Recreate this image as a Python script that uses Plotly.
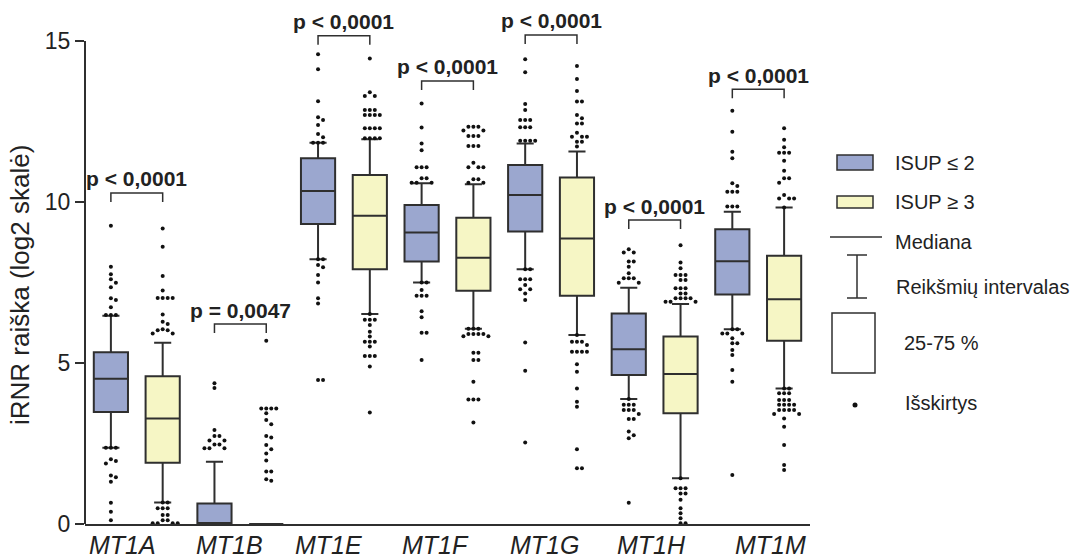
import plotly.graph_objects as go

# ---- data -------------------------------------------------------------
GENES = ["MT1A", "MT1B", "MT1E", "MT1F", "MT1G", "MT1H", "MT1M"]

# ISUP <= 2 : box statistics (log2 scale)
Q1_LOW = [3.48, 0.00, 9.32, 8.15, 9.08, 4.63, 7.13]
MED_LOW = [4.51, 0.00, 10.34, 9.05, 10.22, 5.43, 8.16]
Q3_LOW = [5.33, 0.64, 11.36, 9.91, 11.15, 6.54, 9.15]
WLO_LOW = [2.37, 0.00, 8.22, 7.50, 7.91, 3.88, 6.05]
WHI_LOW = [6.47, 1.93, 11.84, 10.58, 11.82, 7.34, 9.70]

# ISUP >= 3 : box statistics (log2 scale)
Q1_HIGH = [1.90, 0.00, 7.91, 7.24, 7.09, 3.44, 5.69]
MED_HIGH = [3.28, 0.00, 9.57, 8.27, 8.87, 4.66, 6.98]
Q3_HIGH = [4.59, 0.00, 10.84, 9.51, 10.76, 5.82, 8.33]
WLO_HIGH = [0.67, 0.00, 6.52, 6.06, 5.87, 1.42, 4.21]
WHI_HIGH = [5.63, 0.00, 11.95, 10.55, 11.57, 6.83, 9.83]

# outlying values per gene
OUT_LOW = [
    [9.26, 7.99, 7.76, 7.60, 7.49, 7.35, 7.01, 6.96, 6.73, 6.49, 6.49, 6.49,
     2.37, 2.37, 2.37, 2.01, 1.96, 1.88, 1.51, 1.45, 1.31, 0.66, 0.38, 0.12],
    [4.37, 4.22, 2.92, 2.73, 2.73, 2.59, 2.59, 2.47, 2.47, 2.35, 2.35, 2.35],
    [14.59, 14.12, 13.13, 12.63, 12.55, 12.39, 12.11, 12.01, 11.84, 11.84, 11.84,
     8.22, 8.22, 8.04, 7.97, 7.73, 7.50, 7.01, 6.85, 4.47, 4.47],
    [13.06, 12.31, 11.82, 11.61, 11.08, 11.08, 11.08, 10.74, 10.74, 10.60, 10.60, 10.60,
     7.50, 7.50, 7.27, 7.09, 7.09, 7.09, 6.61, 6.42, 5.94, 5.94, 5.09],
    [14.43, 14.03, 13.04, 12.86, 12.55, 12.55, 12.55, 12.32, 12.32, 12.32,
     11.90, 11.90, 11.90, 11.90, 7.91, 7.91, 7.60, 7.60, 7.60, 7.42, 7.29, 7.29,
     7.16, 6.96, 5.64, 4.76, 2.53],
    [8.53, 8.43, 8.43, 8.15, 8.15, 7.99, 7.79, 7.63, 7.63, 7.63, 7.49, 7.49,
     3.88, 3.70, 3.70, 3.70, 3.54, 3.54, 3.54, 3.42, 3.26, 3.26, 2.87, 2.76, 2.66, 0.66],
    [12.83, 12.18, 11.56, 11.36, 10.58, 10.50, 10.32, 10.32, 10.32, 9.86, 9.86, 9.86,
     6.05, 6.05, 5.92, 5.92, 5.92, 5.77, 5.61, 5.61, 5.40, 5.25, 4.78, 4.42, 1.52],
]
OUT_HIGH = [
    [9.18, 8.61, 7.70, 7.25, 7.02, 7.02, 7.02, 7.02, 6.51, 6.28, 6.21, 6.05, 6.02,
     6.02, 5.92, 5.92, 0.67, 0.67, 0.49, 0.49, 0.49, 0.28, 0.28, 0.12, 0.12,
     0.02, 0.02, 0.02, 0.02],
    [5.69, 3.59, 3.59, 3.59, 3.59, 3.44, 3.23, 3.10, 2.73, 2.69, 2.45, 2.32, 2.19,
     1.97, 1.63, 1.63, 1.39, 1.34],
    [14.46, 13.41, 13.29, 13.29, 12.86, 12.86, 12.86, 12.70, 12.70, 12.70, 12.70,
     12.29, 12.29, 12.29, 12.29, 11.98, 11.98, 11.98, 11.98, 6.52, 6.34, 6.34, 6.34,
     6.18, 5.97, 5.82, 5.66, 5.66, 5.66, 5.51, 5.22, 5.22, 5.22, 4.89, 3.46],
    [12.34, 12.34, 12.34, 12.22, 12.22, 12.05, 12.05, 12.05, 11.74, 11.74, 11.74,
     11.22, 11.08, 11.08, 11.08, 10.71, 10.71, 10.60, 10.60, 6.06, 6.06, 6.06, 5.90,
     5.90, 5.90, 5.90, 5.83, 5.83, 5.32, 5.32, 5.09, 5.09, 4.42, 3.87, 3.87, 3.87, 3.15],
    [14.22, 13.82, 13.45, 13.12, 13.12, 12.70, 12.60, 12.44, 12.44, 12.15, 12.03,
     12.03, 12.03, 11.87, 11.87, 11.72, 5.87, 5.66, 5.66, 5.66, 5.56, 5.35, 5.35,
     5.35, 5.35, 4.96, 4.73, 4.21, 3.80, 3.64, 2.32, 1.73, 1.73],
    [8.66, 8.12, 7.94, 7.73, 7.73, 7.73, 7.58, 7.58, 7.32, 7.32, 7.32, 7.16, 7.16,
     7.01, 7.01, 7.01, 7.01, 6.90, 6.90, 6.90, 1.42, 1.11, 1.11, 1.11, 0.95, 0.95,
     0.75, 0.49, 0.33, 0.18, 0.02, 0.02],
    [12.29, 11.93, 11.70, 11.53, 11.53, 11.53, 11.28, 10.97, 10.74, 10.74, 10.60,
     10.22, 10.11, 10.11, 10.11, 9.83, 4.21, 4.21, 4.06, 4.06, 4.06, 3.85, 3.85,
     3.85, 3.70, 3.70, 3.70, 3.70, 3.54, 3.54, 3.54, 3.54, 3.42, 3.42, 3.28, 3.02,
     2.45, 1.83, 1.68],
]

P_LABELS = ["p < 0,0001", "p = 0,0047", "p < 0,0001", "p < 0,0001",
            "p < 0,0001", "p < 0,0001", "p < 0,0001"]
BRACKET_Y = [10.28, 6.21, 15.16, 13.76, 15.19, 9.44, 13.50]

LEGEND_LOW = "ISUP ≤ 2"
LEGEND_HIGH = "ISUP ≥ 3"
Y_TITLE = "iRNR raiška (log2 skalė)"

# ---- styling / geometry -----------------------------------------------
FONT = "Liberation Sans, Arial, Helvetica, sans-serif"
BLUE = "#9ba7cf"
YELLOW = "#f6f6c5"
EDGE = "#2f2f2f"
DOT = "#111111"

W, H = 1084, 560
ML, MR, MT, MB = 85, 274, 0, 36
PX_PER_UNIT = 32.2                       # vertical scale
Y_TOP = (H - MT - MB) / PX_PER_UNIT      # y range top so that 0..15 spans the axis
X_RANGE = [-0.5, 6.5]
OFFSET = 0.25                            # half distance between paired boxes
BOX_W = 0.33
X_UNIT_PX = (W - ML - MR) / (X_RANGE[1] - X_RANGE[0])

pos_low = [i - OFFSET for i in range(len(GENES))]
pos_high = [i + OFFSET for i in range(len(GENES))]


def spread(values, center):
    """Place coincident points side by side, like a scatter-dot column."""
    step = 5.0 / X_UNIT_PX
    dy = 4.6 / PX_PER_UNIT
    placed = []
    for v in sorted(values, reverse=True):
        for k in [0, 1, -1, 2, -2, 3, -3, 4, -4]:
            off = k * step
            if all(abs(pv - v) >= dy or abs(po - off) >= step * 0.9 for pv, po in placed):
                placed.append((v, off))
                break
    return [center + o for _, o in placed], [v for v, _ in placed]


def px_x(p):
    return (p - ML) / (W - ML - MR)


def px_y(p):
    return (H - MB - p) / (H - MT - MB)


fig = go.Figure()

for name, pos, q1, med, q3, lo, hi, fill in [
    (LEGEND_LOW, pos_low, Q1_LOW, MED_LOW, Q3_LOW, WLO_LOW, WHI_LOW, BLUE),
    (LEGEND_HIGH, pos_high, Q1_HIGH, MED_HIGH, Q3_HIGH, WLO_HIGH, WHI_HIGH, YELLOW),
]:
    fig.add_trace(go.Box(
        x=pos, q1=q1, median=med, q3=q3, lowerfence=lo, upperfence=hi,
        width=BOX_W, whiskerwidth=0.5, fillcolor=fill,
        line=dict(color=EDGE, width=2), boxpoints=False,
        name=name, showlegend=False, hoverinfo="skip",
    ))

for pos, outs in [(pos_low, OUT_LOW), (pos_high, OUT_HIGH)]:
    xs, ys = [], []
    for c, vals in zip(pos, outs):
        xx, yy = spread(vals, c)
        xs += xx
        ys += yy
    fig.add_trace(go.Scatter(
        x=xs, y=ys, mode="markers", cliponaxis=False,
        marker=dict(size=4, color=DOT), showlegend=False, hoverinfo="skip",
    ))

shapes = []
annotations = []

# significance brackets
leg = 9.0 / PX_PER_UNIT
for i, (lab, yb) in enumerate(zip(P_LABELS, BRACKET_Y)):
    x0, x1 = pos_low[i], pos_high[i]
    shapes.append(dict(
        type="path", xref="x", yref="y",
        path=f"M {x0},{yb - leg} L {x0},{yb} L {x1},{yb} L {x1},{yb - leg}",
        line=dict(color=EDGE, width=1.5),
    ))
    annotations.append(dict(
        x=i, y=yb, xref="x", yref="y", yshift=14, yanchor="middle",
        text=f"<b>{lab}</b>", showarrow=False,
        font=dict(family=FONT, size=21, color="#222"),
    ))

# y axis line from 0 to 15
shapes.append(dict(type="line", xref="paper", yref="paper", x0=0, x1=0,
                   y0=0, y1=15 / Y_TOP, line=dict(color=EDGE, width=2)))

# gene labels under the axis
label_shift = [-14, -11, -15, -12, -7, -3, 12]
for i, g in enumerate(GENES):
    annotations.append(dict(
        x=i, y=0, xref="x", yref="paper", xshift=label_shift[i], yshift=-21,
        yanchor="middle", text=f"<i>{g}</i>", showarrow=False,
        font=dict(family=FONT, size=25, color="#222"),
    ))

# y axis title
annotations.append(dict(
    x=px_x(20), y=px_y(285), xref="paper", yref="paper", textangle=-90,
    text=Y_TITLE, showarrow=False, xanchor="center", yanchor="middle",
    font=dict(family=FONT, size=26, color="#222"),
))

# legend key
lfont = dict(family=FONT, size=20, color="#222")
shapes += [
    dict(type="rect", xref="paper", yref="paper", x0=px_x(837), x1=px_x(873),
         y0=px_y(170), y1=px_y(155), fillcolor=BLUE, line=dict(color=EDGE, width=1.5)),
    dict(type="rect", xref="paper", yref="paper", x0=px_x(837), x1=px_x(873),
         y0=px_y(208), y1=px_y(196), fillcolor=YELLOW, line=dict(color=EDGE, width=1.5)),
    dict(type="line", xref="paper", yref="paper", x0=px_x(830), x1=px_x(882),
         y0=px_y(237), y1=px_y(237), line=dict(color=EDGE, width=1.5)),
    dict(type="line", xref="paper", yref="paper", x0=px_x(857), x1=px_x(857),
         y0=px_y(255), y1=px_y(298), line=dict(color=EDGE, width=1.5)),
    dict(type="line", xref="paper", yref="paper", x0=px_x(847), x1=px_x(867),
         y0=px_y(255), y1=px_y(255), line=dict(color=EDGE, width=1.5)),
    dict(type="line", xref="paper", yref="paper", x0=px_x(847), x1=px_x(867),
         y0=px_y(298), y1=px_y(298), line=dict(color=EDGE, width=1.5)),
    dict(type="rect", xref="paper", yref="paper", x0=px_x(832), x1=px_x(875),
         y0=px_y(373), y1=px_y(313), fillcolor="white", line=dict(color=EDGE, width=1.5)),
    dict(type="circle", xref="paper", yref="paper", x0=px_x(852.5), x1=px_x(857.5),
         y0=px_y(407.5), y1=px_y(402.5), fillcolor=DOT, line=dict(color=DOT, width=0)),
]
for txt, xp, yp in [
    (LEGEND_LOW, 893, 163), (LEGEND_HIGH, 893, 202), ("Mediana", 893, 242),
    ("Reikšmių intervalas", 894, 287), ("25-75 %", 902, 343), ("Išskirtys", 903, 403),
]:
    annotations.append(dict(
        x=px_x(xp), y=px_y(yp), xref="paper", yref="paper", xanchor="left",
        yanchor="middle", text=txt, showarrow=False, font=lfont,
    ))

fig.update_layout(
    width=W, height=H, margin=dict(l=ML, r=MR, t=MT, b=MB),
    paper_bgcolor="white", plot_bgcolor="white", boxmode="overlay",
    showlegend=False, shapes=shapes, annotations=annotations,
    font=dict(family=FONT, color="#222"),
    xaxis=dict(range=X_RANGE, showgrid=False, zeroline=False, showline=True,
               linecolor=EDGE, linewidth=2, ticks="", showticklabels=False,
               fixedrange=True),
    yaxis=dict(range=[0, Y_TOP], showgrid=False, zeroline=False, showline=False,
               tickvals=[0, 5, 10, 15], ticks="outside", ticklen=9, tickwidth=2,
               tickcolor=EDGE, tickfont=dict(family=FONT, size=23, color="#222"),
               fixedrange=True),
)

fig.write_html("out.html")
